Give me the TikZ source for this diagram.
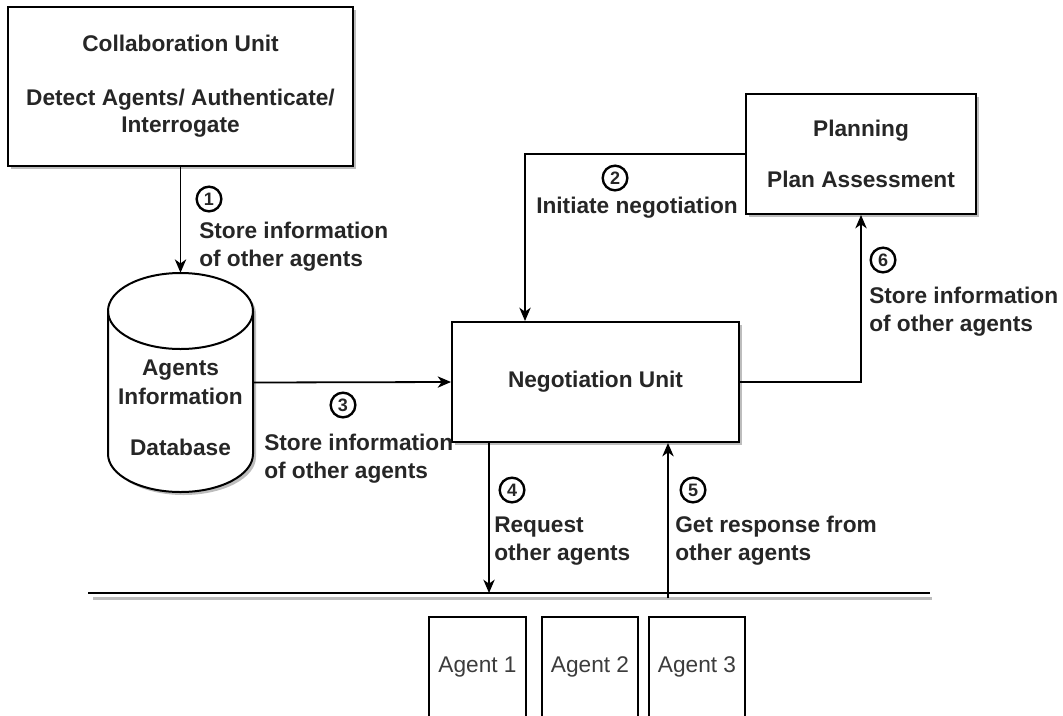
\documentclass[tikz,border=0pt]{standalone}
\usepackage{fontspec}
\setmainfont{Liberation Sans}
\usetikzlibrary{arrows.meta,shadows,calc}
\definecolor{txt}{HTML}{262626}
\definecolor{shd}{HTML}{BDBDBD}
\definecolor{agtxt}{HTML}{3C3C3C}
\begin{document}
\begin{tikzpicture}[x=0.75pt,y=-0.75pt,
  box/.style={draw=black, line width=1.5pt, fill=white, rectangle, inner sep=0pt,
    font=\fontsize{17}{20.25}\selectfont\bfseries, text=txt, align=center,
    drop shadow={shadow xshift=2.6pt, shadow yshift=-2.6pt, fill=shd, opacity=1}},
  agentbox/.style={draw=black, line width=1.3pt, fill=white, rectangle, inner sep=0pt,
    minimum height=75pt, font=\fontsize{17}{20}\selectfont, text=agtxt},
  lbl/.style={inner sep=0pt, align=left, font=\fontsize{17}{21}\selectfont\bfseries, text=txt},
  dbtxt/.style={inner sep=0pt, align=center, font=\fontsize{17}{21.75}\selectfont\bfseries, text=txt},
  num/.style={circle, draw=black, line width=1.8pt, minimum size=18.5pt, inner sep=0pt,
    font=\fontsize{13.5}{13.5}\selectfont\bfseries, text=txt},
  arr/.style={draw=black, line width=1.35pt, -{Stealth[length=10pt, width=8.5pt, inset=3pt]}}
]
\useasboundingbox (0,0) rectangle (1063,715);
\clip (0,0) rectangle (1063,715);

% boxes
\node[box, minimum width=258.75pt, minimum height=119.25pt] (collab) at (180.5,86.5)
  {Collaboration Unit\\[20.25pt]Detect Agents/ Authenticate/\\Interrogate};
\node[box, minimum width=172.5pt, minimum height=90pt] (plan) at (861,154)
  {Planning\\[18pt]Plan Assessment};
\node[box, minimum width=215.25pt, minimum height=90pt] (neg) at (595.5,382)
  {Negotiation Unit};

% database cylinder
\node[minimum width=108.75pt, minimum height=164.25pt, inner sep=0pt] (db) at (180.5,382.5) {};
\fill[shd, shift={(3,3)}] (108,311) -- (108,454)
  arc[start angle=180, end angle=360, x radius=54.375pt, y radius=28.5pt] -- (253,311)
  arc[start angle=0, end angle=180, x radius=54.375pt, y radius=28.5pt] -- cycle;
\draw[line width=1.5pt, fill=white] (108,311) -- (108,454)
  arc[start angle=180, end angle=360, x radius=54.375pt, y radius=28.5pt] -- (253,311)
  arc[start angle=0, end angle=180, x radius=54.375pt, y radius=28.5pt] -- cycle;
\draw[line width=1.5pt] (108,311)
  arc[start angle=180, end angle=360, x radius=54.375pt, y radius=28.5pt];
\node[dbtxt] (dbt) at (180.5,408) {Agents\\Information\\[16.5pt]Database};

% bus line
\coordinate (busL) at (88,593);
\coordinate (busR) at (930,593);
\draw[line width=1.8pt, shd] ([shift={(5,5.5)}]busL) -- ([shift={(2,5.5)}]busR);
\draw[line width=1.6pt] (busL) -- (busR);

% agents
\node[agentbox, minimum width=72.75pt] (a1) at (477.5,667) {Agent 1};
\node[agentbox, minimum width=72pt] (a2) at (590,667) {Agent 2};
\node[agentbox, minimum width=72pt] (a3) at (697,667) {Agent 3};

% connectors
\draw[arr] (collab.south) -- (db.north);
\draw[arr] (db.east) -- (neg.west);
\coordinate (c2) at ([xshift=-52.875pt]neg.north);
\draw[arr] (plan.west) -| (c2);
\draw[arr] (neg.east) -| (plan.south);
\coordinate (b4) at (489,593);
\coordinate (b5) at (668,598);
\draw[arr] (neg.south -| b4) -- (b4);
\draw[arr] (b5) -- (neg.south -| b5);

% step numbers
\node[num] (n1) at (209,199) {1};
\node[num] (n2) at (615,178) {2};
\node[num] (n3) at (343,405) {3};
\node[num] (n4) at (512,490) {4};
\node[num] (n5) at (693,490) {5};
\node[num] (n6) at (883,260) {6};

% labels
\node[lbl, anchor=west] (t1) at (199,246.5) {Store information\\of other agents};
\node[lbl, anchor=west] (t2) at (536,208) {Initiate negotiation};
\node[lbl, anchor=west] (t3) at (264,459) {Store information\\of other agents};
\node[lbl, anchor=west] (t4) at (494,541) {Request\\other agents};
\node[lbl, anchor=west] (t5) at (675,541) {Get response from\\other agents};
\node[lbl, anchor=west] (t6) at (869,312) {Store information\\of other agents};
\end{tikzpicture}
\end{document}
